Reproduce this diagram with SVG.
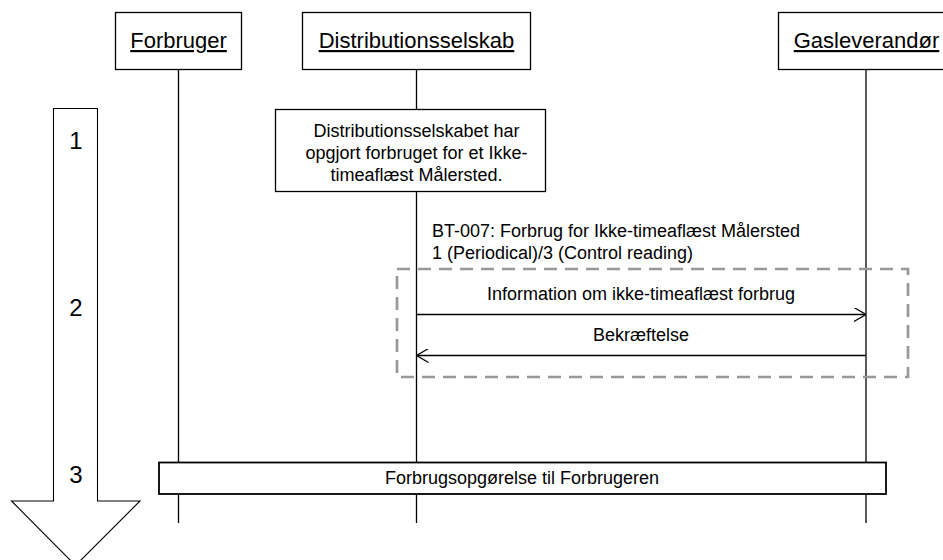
<svg xmlns="http://www.w3.org/2000/svg" width="943" height="560" viewBox="0 0 943 560">
<style>
text{font-family:"Liberation Sans",Arial,sans-serif;fill:#000}
.hdr{font-size:22px;text-anchor:middle;text-decoration:underline}
.num{font-size:24px;text-anchor:middle}
.t{font-size:18px;text-anchor:middle}
.box{fill:#fff;stroke:#000;stroke-width:1.3}
.life{stroke:#000;stroke-width:1.3;fill:none}
.msg{stroke:#000;stroke-width:1.3;fill:none}
</style>
<defs>
<marker id="open" viewBox="0 0 12 14" refX="12" refY="7" markerWidth="12" markerHeight="14" markerUnits="userSpaceOnUse" orient="auto">
<path d="M0,0 L12,7 L0,14" fill="none" stroke="#000" stroke-width="1.2"/>
</marker>
</defs>
<rect width="943" height="560" fill="#fff"/>
<g id="connectors">
<line class="life" x1="178.5" y1="69" x2="178.5" y2="523"/>
<line class="life" x1="416.5" y1="69" x2="416.5" y2="523"/>
<line class="life" x1="866" y1="69" x2="866" y2="523"/>
<rect id="frame" x="397" y="269" width="511" height="108" fill="none" stroke="#999" stroke-width="2.7" stroke-dasharray="13 8"/>
<line class="msg" x1="416.5" y1="314.5" x2="866" y2="314.5" marker-end="url(#open)"/>
<line class="msg" x1="866" y1="355.5" x2="416.5" y2="355.5" marker-end="url(#open)"/>
<text class="t" x="641" y="300">Information om ikke-timeaflæst forbrug</text>
<text class="t" x="641" y="341">Bekræftelse</text>
<text x="432" y="237" style="font-size:18px">BT-007: Forbrug for Ikke-timeaflæst Målersted</text>
<text x="432" y="259" style="font-size:18px">1 (Periodical)/3 (Control reading)</text>
</g>
<g id="forbruger">
<rect class="box" x="115.5" y="12.5" width="126" height="57"/>
<text class="hdr" x="178.5" y="48">Forbruger</text>
</g>
<g id="distributionsselskab">
<rect class="box" x="302.5" y="12.5" width="228" height="57"/>
<text class="hdr" x="416.5" y="48">Distributionsselskab</text>
</g>
<g id="gasleverandor">
<rect class="box" x="778.5" y="12.5" width="176" height="57"/>
<text class="hdr" x="866.5" y="48">Gasleverandør</text>
</g>
<g id="timeline">
<polygon points="53.5,108.5 97.5,108.5 97.5,501 140,501 75.5,565.5 11.5,501 53.5,501" fill="#fff" stroke="#000" stroke-width="1.1"/>
<text class="num" x="76" y="149">1</text>
<text class="num" x="76" y="316">2</text>
<text class="num" x="76" y="483">3</text>
</g>
<g id="note">
<rect class="box" x="275.5" y="109.5" width="270" height="82"/>
<text class="t" x="416.5" y="137">Distributionsselskabet har</text>
<text class="t" x="416.5" y="159">opgjort forbruget for et Ikke-</text>
<text class="t" x="416.5" y="181">timeaflæst Målersted.</text>
</g>
<g id="forbrugsopgorelse">
<rect x="159" y="462.5" width="727" height="31.5" fill="#fff" stroke="#000" stroke-width="1.8"/>
<text class="t" x="522" y="484">Forbrugsopgørelse til Forbrugeren</text>
</g>
</svg>
